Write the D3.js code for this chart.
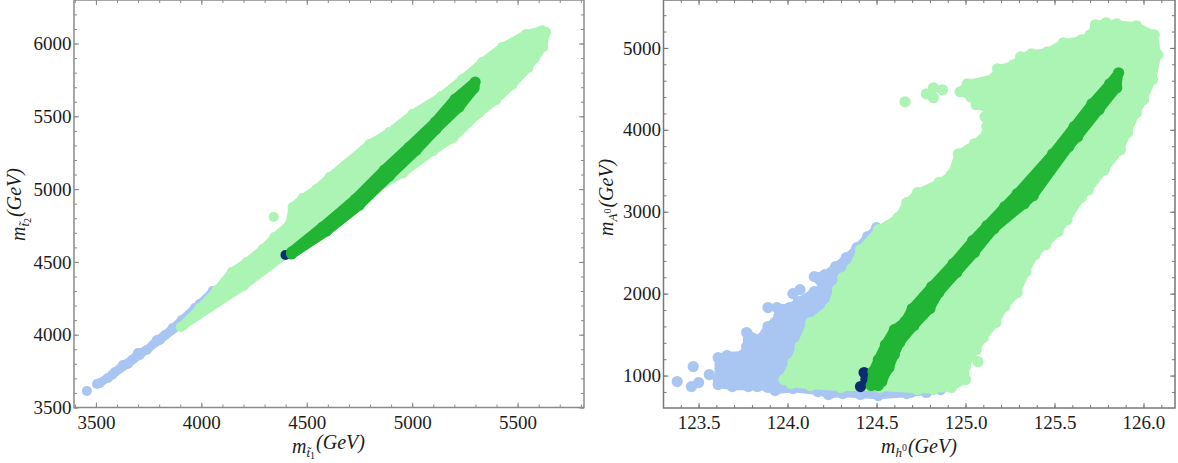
<!DOCTYPE html>
<html>
<head>
<meta charset="utf-8">
<script src="https://d3js.org/d3.v7.min.js"></script>
<style>
  body { margin: 0; background: #fff; }
  svg { display: block; }
  text { font-family: "Liberation Serif", serif; fill: #1c1c1c; }
</style>
</head>
<body>
<div id="viz-container"></div>
<script>
// left panel: [m_t1, m_t2]
let stopBlueEdge = [[3505,3661],[3519,3668],[3557,3703],[3590,3744],[3628,3792],[3670,3826],[3699,3874],[3741,3895],[3789,3964],[3827,3998],[3864,4046],[3907,4101],[3969,4183],[3992,4211],[4054,4300],[3898,4067],[3803,3964],[3708,3861],[3651,3799],[3576,3723]];
let stopBlueLone = [[3457,3613]];
let stopLightEdge = [[3902,4053],[3992,4183],[4073,4307],[4144,4431],[4215,4499],[4291,4589],[4347,4671],[4418,4760],[4433,4877],[4480,4939],[4546,5001],[4608,5083],[4797,5310],[4892,5392],[5001,5516],[5138,5639],[5237,5756],[5332,5873],[5427,5976],[5540,6065],[5616,6092],[5635,6079],[5621,5976],[5583,5900],[5550,5832],[5474,5715],[5398,5612],[5318,5522],[5195,5351],[5100,5262],[4958,5110],[4769,4953],[4390,4541],[4201,4334],[3912,4060]];
let stopLightLone = [[4343,4808]];
let stopDarkEdge = [[4428,4568],[4575,4740],[4731,4932],[4868,5131],[4986,5289],[5110,5461],[5204,5619],[5299,5736],[5294,5694],[5223,5564],[5114,5413],[5020,5268],[4892,5090],[4750,4891],[4594,4712],[4428,4554]];
let stopNavy = [[4399,4547]];

// right panel: [m_h0, m_A0]
let higgsBlueEdge = [[123.61,951],[123.61,1220],[123.66,1244],[123.75,1256],[123.77,1354],[123.77,1525],[123.84,1439],[123.89,1598],[123.95,1720],[123.94,1830],[124.01,1830],[124.06,1903],[124.15,2025],[124.20,2086],[124.15,2208],[124.21,2232],[124.27,2330],[124.33,2440],[124.39,2562],[124.45,2696],[124.50,2806],[124.63,2781],[124.86,829],[124.67,780],[124.51,756],[124.41,768],[124.31,780],[124.23,768],[124.17,805],[124.03,841],[123.93,817],[123.89,854],[123.83,866],[123.78,866],[123.69,866],[123.61,890]];
let higgsBlueLone = [[123.38,927],[123.46,866],[123.50,915],[123.47,1110],[123.56,1012],[124.03,2000],[124.07,2049],[123.89,1830],[124.69,793],[124.78,793]];
let higgsLightEdge = [[123.98,951],[124.03,1159],[124.07,1354],[124.13,1647],[124.24,1830],[124.28,2049],[124.31,2196],[124.36,2305],[124.41,2537],[124.51,2781],[124.62,2928],[124.67,3111],[124.73,3233],[124.85,3355],[124.92,3452],[124.96,3708],[125.05,3830],[125.12,3965],[125.12,4038],[125.11,4160],[125.14,4245],[125.06,4306],[125.03,4404],[124.97,4465],[125.01,4562],[125.16,4636],[125.18,4745],[125.27,4794],[125.31,4892],[125.37,4928],[125.46,4953],[125.55,5063],[125.65,5099],[125.70,5160],[125.73,5282],[125.79,5307],[125.85,5294],[125.96,5270],[126.06,5160],[126.08,4916],[126.05,4611],[126.00,4367],[125.96,4209],[125.91,3965],[125.87,3757],[125.78,3513],[125.69,3269],[125.65,3172],[125.57,2903],[125.52,2757],[125.45,2598],[125.39,2476],[125.34,2269],[125.29,2013],[125.22,1842],[125.17,1647],[125.10,1464],[125.06,1317],[125.00,1110],[125.00,951],[124.92,854],[124.82,829],[124.73,829],[124.52,854],[124.30,854],[124.13,878],[124.02,902]];
let higgsLightLone = [[124.66,4343],[124.78,4440],[124.82,4514],[124.87,4489],[124.82,4392],[125.07,1171]];
let higgsDarkEdge = [[124.47,878],[124.48,1049],[124.51,1195],[124.55,1378],[124.60,1561],[124.66,1659],[124.70,1817],[124.81,2086],[124.93,2366],[125.04,2647],[125.12,2830],[125.22,3062],[125.29,3220],[125.49,3708],[125.61,4038],[125.71,4318],[125.81,4562],[125.86,4697],[125.85,4514],[125.75,4245],[125.63,3916],[125.58,3794],[125.38,3196],[125.33,3098],[125.16,2793],[125.05,2501],[124.95,2257],[124.85,2013],[124.80,1817],[124.71,1610],[124.63,1403],[124.60,1256],[124.57,1098],[124.53,927],[124.51,878]];
let higgsNavy = [[124.43,1037],[124.41,866],[124.44,951]];

// tick labels
let stopXTicks = [3500,4000,4500,5000,5500];
let stopYTicks = [3500,4000,4500,5000,5500,6000];
let higgsXTicks = [123.5,124.0,124.5,125.0,125.5,126.0];
let higgsYTicks = [1000,2000,3000,4000,5000];

let blue = "#a9c6f3", light = "#abf4b4", dark = "#22b535", navy = "#0a2d70";

let viz = d3.select("#viz-container")
  .append("svg")
    .attr("width", 1178)
    .attr("height", 463);

// blob = outline polygon with a dot on every vertex, so the edge looks like the scatter
// shrink = how far the polygon stroke stays inside the dots, bigger means bumpier edge
function blob(g, x, y, edge, lone, color, r, shrink) {
  let line = d3.line().x(d => x(d[0])).y(d => y(d[1]));
  if (edge.length) {
    g.append("path")
      .attr("d", line(edge) + "Z")
      .attr("fill", color)
      .attr("stroke", color)
      .attr("stroke-width", 2 * (r - shrink))
      .attr("stroke-linejoin", "round");
  }
  g.append("g").selectAll("circle")
    .data(edge.concat(lone))
    .enter().append("circle")
      .attr("cx", d => x(d[0]))
      .attr("cy", d => y(d[1]))
      .attr("r", r)
      .attr("fill", color);
}

function frame(g, x, y, xTicks, yTicks, xMinor, yMinor, xFmt, spine) {
  let [x0, x1] = x.range();
  let [y0, y1] = y.range();

  let axes = [
    [d3.axisBottom(x), y0, 0, true],
    [d3.axisTop(x), y1, 0, false],
  ];
  axes.forEach(a => {
    let big = g.append("g").attr("transform", `translate(0,${a[1]})`)
      .call(a[0].tickValues(xTicks).tickSizeOuter(0).tickSizeInner(-5).tickFormat(a[3] ? xFmt : ""));
    big.select(".domain").remove();
    big.selectAll("line").attr("stroke", spine);
    big.selectAll("text").attr("font-size", 19).attr("y", 8).attr("dy", "0.71em").attr("font-family", "Liberation Serif");
    let small = g.append("g").attr("transform", `translate(0,${a[1]})`)
      .call((a[3] ? d3.axisBottom(x) : d3.axisTop(x)).tickValues(xMinor).tickSizeOuter(0).tickSizeInner(-3).tickFormat(""));
    small.select(".domain").remove();
    small.selectAll("line").attr("stroke", spine);
  });

  let sides = [
    [d3.axisLeft(y), x0, true],
    [d3.axisRight(y), x1, false],
  ];
  sides.forEach(a => {
    let big = g.append("g").attr("transform", `translate(${a[1]},0)`)
      .call(a[0].tickValues(yTicks).tickSizeOuter(0).tickSizeInner(-5).tickFormat(a[2] ? d3.format("d") : ""));
    big.select(".domain").remove();
    big.selectAll("line").attr("stroke", spine);
    big.selectAll("text").attr("font-size", 19).attr("x", -2.5).attr("font-family", "Liberation Serif");
    let small = g.append("g").attr("transform", `translate(${a[1]},0)`)
      .call((a[2] ? d3.axisLeft(y) : d3.axisRight(y)).tickValues(yMinor).tickSizeOuter(0).tickSizeInner(-3).tickFormat(""));
    small.select(".domain").remove();
    small.selectAll("line").attr("stroke", spine);
  });

  g.append("rect")
    .attr("x", x0).attr("y", y1)
    .attr("width", x1 - x0).attr("height", y0 - y1)
    .attr("fill", "none")
    .attr("stroke", spine)
    .attr("stroke-width", 1.5);
}

// axis title: m, subscript letter, optional sub-subscript, then (GeV)
function title(g, px, py, rotate, sub, subsub, sup) {
  let t = g.append("text")
    .attr("transform", `translate(${px},${py}) rotate(${rotate})`)
    .attr("font-size", 20)
    .attr("font-style", "italic");
  t.append("tspan").text("m");
  t.append("tspan").attr("font-size", 13).attr("dy", 4).text(sub);
  if (subsub) t.append("tspan").attr("font-size", 10).attr("dy", 2).attr("font-style", "normal").text(subsub);
  if (sup) t.append("tspan").attr("font-size", 10).attr("dy", -6).attr("font-style", "normal").text(sup);
  let back = (subsub ? -6 : 0) + (sup ? 2 : -4);
  t.append("tspan").attr("dy", back).attr("dx", 1).text("(GeV)");
}

// left panel
let leftG = viz.append("g");
let xL = d3.scaleLinear().domain([3396, 5815]).range([74, 584]);
let yL = d3.scaleLinear().domain([3500, 6299]).range([407.5, 0]);
blob(leftG, xL, yL, stopBlueEdge, stopBlueLone, blue, 5, 1);
blob(leftG, xL, yL, stopLightEdge, stopLightLone, light, 5, 1);
blob(leftG, xL, yL, [], stopNavy, navy, 5, 0);
blob(leftG, xL, yL, stopDarkEdge, [], dark, 5.5, 0.5);
frame(leftG, xL, yL, stopXTicks, stopYTicks, xL.ticks(25), yL.ticks(30), d3.format("d"), "#8a8a8a");
title(leftG, 292, 453, 0, "t\u0303", "1");
title(leftG, 25, 241, -90, "t\u0303", "2");

// right panel
let rightG = viz.append("g");
let xR = d3.scaleLinear().domain([123.303, 126.177]).range([663.5, 1175]);
let yR = d3.scaleLinear().domain([604, 5585]).range([408, 0]);
blob(rightG, xR, yR, higgsBlueEdge, higgsBlueLone, blue, 5.6, 2);
blob(rightG, xR, yR, higgsLightEdge, higgsLightLone, light, 5.6, 2);
blob(rightG, xR, yR, [], higgsNavy, navy, 5.6, 0);
blob(rightG, xR, yR, higgsDarkEdge, [], dark, 5.6, 1);
frame(rightG, xR, yR, higgsXTicks, higgsYTicks, xR.ticks(30), yR.ticks(25), d3.format(".1f"), "#777");
title(rightG, 881, 453, 0, "h", null, "0");
title(rightG, 613, 236, -90, "A", null, "0");
</script>
</body>
</html>
